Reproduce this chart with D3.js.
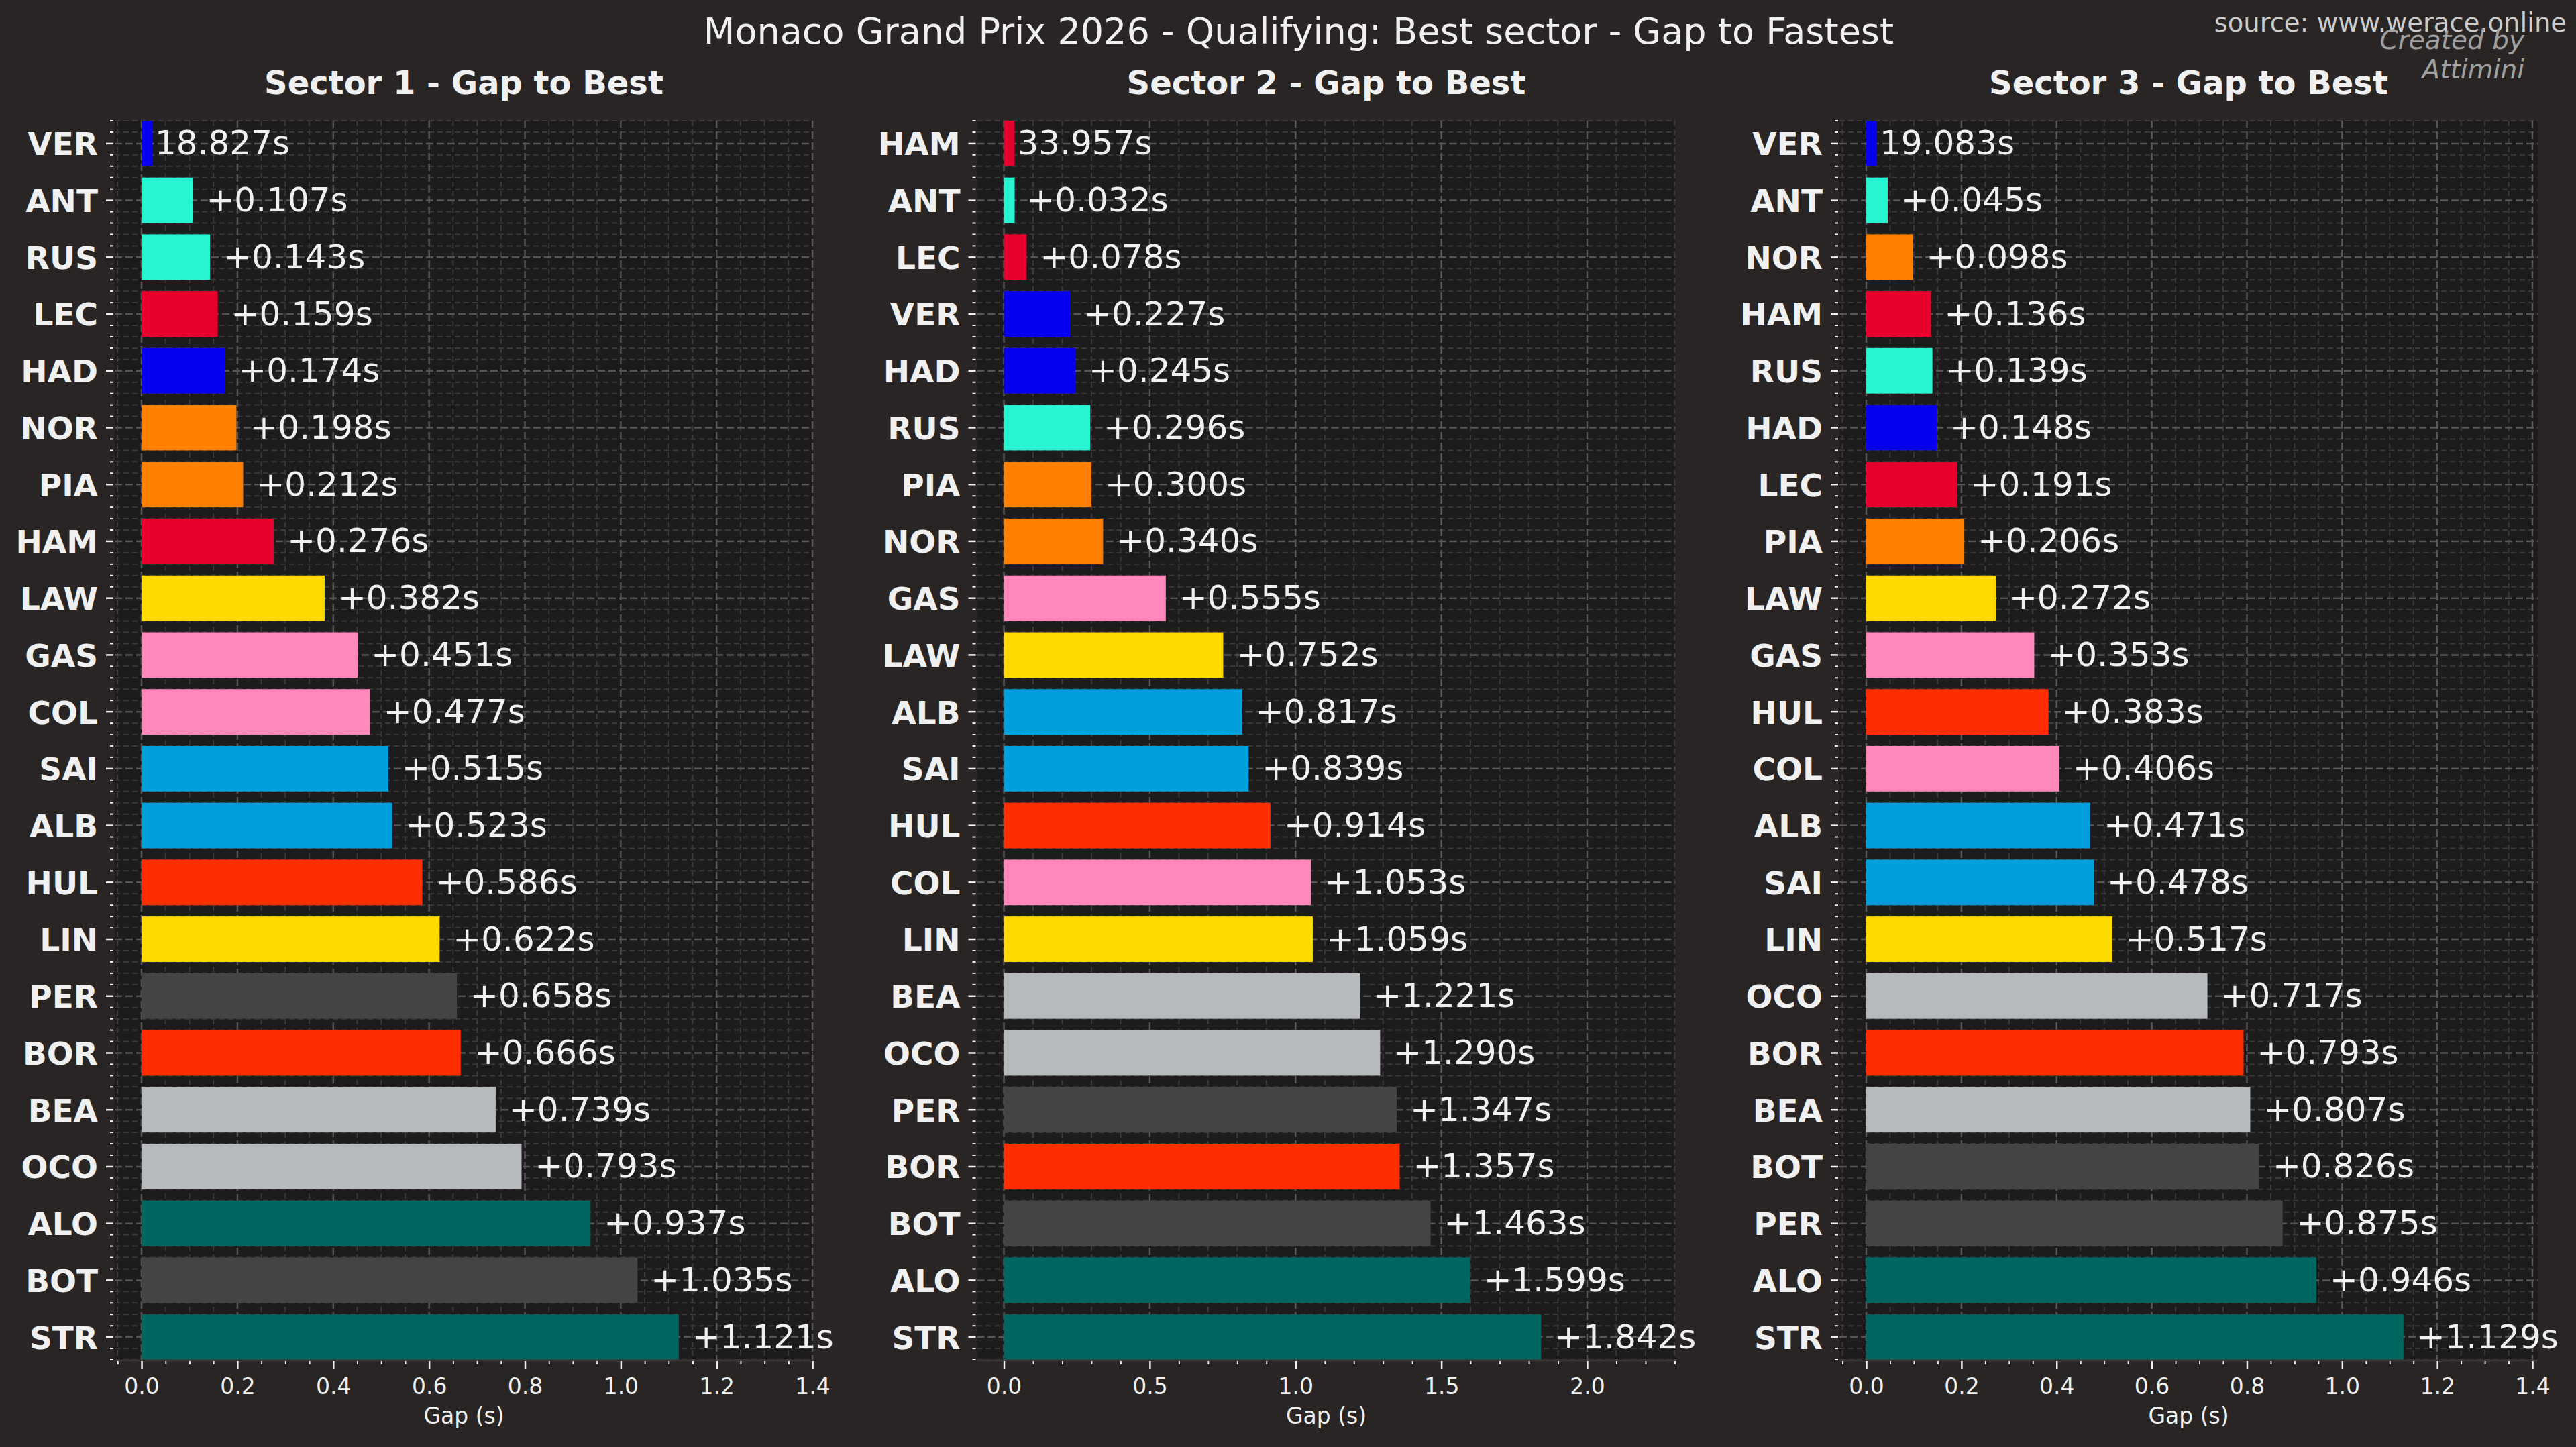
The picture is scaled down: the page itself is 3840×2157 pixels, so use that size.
<!DOCTYPE html>
<html>
<head>
<meta charset="utf-8">
<script src="https://cdn.jsdelivr.net/npm/d3@7"></script>
<style>
html, body { margin: 0; padding: 0; background: #282524; }
svg { display: block; }
text { font-family: "DejaVu Sans", sans-serif; }
</style>
</head>
<body>
<svg id="chart"></svg>
<script>
var width = 3840, height = 2157;

// data
var s1Drivers = ["VER", "ANT", "RUS", "LEC", "HAD", "NOR", "PIA", "HAM", "LAW", "GAS", "COL",
    "SAI", "ALB", "HUL", "LIN", "PER", "BOR", "BEA", "OCO", "ALO", "BOT", "STR"];
var s1Gaps = [0, 0.107, 0.143, 0.159, 0.174, 0.198, 0.212, 0.276, 0.382, 0.451, 0.477,
    0.515, 0.523, 0.586, 0.622, 0.658, 0.666, 0.739, 0.793, 0.937, 1.035, 1.121];

var s2Drivers = ["HAM", "ANT", "LEC", "VER", "HAD", "RUS", "PIA", "NOR", "GAS", "LAW", "ALB",
    "SAI", "HUL", "COL", "LIN", "BEA", "OCO", "PER", "BOR", "BOT", "ALO", "STR"];
var s2Gaps = [0, 0.032, 0.078, 0.227, 0.245, 0.296, 0.300, 0.340, 0.555, 0.752, 0.817,
    0.839, 0.914, 1.053, 1.059, 1.221, 1.290, 1.347, 1.357, 1.463, 1.599, 1.842];

var s3Drivers = ["VER", "ANT", "NOR", "HAM", "RUS", "HAD", "LEC", "PIA", "LAW", "GAS", "HUL",
    "COL", "ALB", "SAI", "LIN", "OCO", "BOR", "BEA", "BOT", "PER", "ALO", "STR"];
var s3Gaps = [0, 0.045, 0.098, 0.136, 0.139, 0.148, 0.191, 0.206, 0.272, 0.353, 0.383,
    0.406, 0.471, 0.478, 0.517, 0.717, 0.793, 0.807, 0.826, 0.875, 0.946, 1.129];

var bestTimes = [18.827, 33.957, 19.083];
var sectorTitles = ["Sector 1 - Gap to Best", "Sector 2 - Gap to Best", "Sector 3 - Gap to Best"];

var s1Ticks = [0, 0.2, 0.4, 0.6, 0.8, 1.0, 1.2, 1.4];
var s2Ticks = [0, 0.5, 1.0, 1.5, 2.0];
var s3Ticks = [0, 0.2, 0.4, 0.6, 0.8, 1.0, 1.2, 1.4];
var minorSteps = [0.05, 0.1, 0.05];

var teamColors = {
    VER: "#0600EF", HAD: "#0600EF",
    ANT: "#27F4D2", RUS: "#27F4D2",
    LEC: "#E8002D", HAM: "#E8002D",
    NOR: "#FF8000", PIA: "#FF8000",
    LAW: "#FFDA00", LIN: "#FFDA00",
    GAS: "#FF87BC", COL: "#FF87BC",
    SAI: "#00A0DE", ALB: "#00A0DE",
    HUL: "#FF2D00", BOR: "#FF2D00",
    PER: "#444444", BOT: "#444444",
    BEA: "#B6BABD", OCO: "#B6BABD",
    ALO: "#00665F", STR: "#00665F"
};

var panels = [
    { drivers: s1Drivers, gaps: s1Gaps, best: bestTimes[0], title: sectorTitles[0], ticks: s1Ticks, minor: minorSteps[0] },
    { drivers: s2Drivers, gaps: s2Gaps, best: bestTimes[1], title: sectorTitles[1], ticks: s2Ticks, minor: minorSteps[1] },
    { drivers: s3Drivers, gaps: s3Gaps, best: bestTimes[2], title: sectorTitles[2], ticks: s3Ticks, minor: minorSteps[2] }
];

// layout
var plotTop = 180, plotH = 1847, plotW = 1041;
var plotLeft0 = 171, panelStep = 1285.5;

var svg = d3.select("#chart")
    .attr("width", width)
    .attr("height", height);

svg.append("rect")
    .attr("width", width)
    .attr("height", height)
    .attr("fill", "#282524");

svg.append("text")
    .attr("x", 1936)
    .attr("y", 65)
    .attr("text-anchor", "middle")
    .attr("font-size", "54px")
    .attr("fill", "#f0f0f0")
    .text("Monaco Grand Prix 2026 - Qualifying: Best sector - Gap to Fastest");

svg.append("text")
    .attr("x", 3826)
    .attr("y", 47)
    .attr("text-anchor", "end")
    .attr("font-size", "38.5px")
    .attr("fill", "#cccccc")
    .text("source: www.werace.online");

svg.append("text")
    .attr("x", 3763)
    .attr("y", 73)
    .attr("text-anchor", "end")
    .attr("font-size", "39px")
    .attr("font-style", "italic")
    .attr("fill", "#a0a0a0")
    .text("Created by");

svg.append("text")
    .attr("x", 3763)
    .attr("y", 117)
    .attr("text-anchor", "end")
    .attr("font-size", "39px")
    .attr("font-style", "italic")
    .attr("fill", "#a0a0a0")
    .text("Attimini");

panels.forEach(function(p, pi) {
    var n = p.drivers.length;
    var maxGap = d3.max(p.gaps);

    var x = d3.scaleLinear()
        .domain([-0.05 * maxGap, 1.25 * maxGap])
        .range([0, plotW]);

    var y = d3.scaleBand()
        .domain(p.drivers)
        .range([0, plotH])
        .paddingInner(0.2)
        .paddingOuter(0);

    // index scale for the minor y grid
    var yIdx = d3.scaleLinear()
        .domain([-0.4, n - 0.6])
        .range([0, plotH]);

    var g = svg.append("g")
        .attr("transform", "translate(" + (plotLeft0 + pi * panelStep) + "," + plotTop + ")");

    g.append("rect")
        .attr("width", plotW)
        .attr("height", plotH)
        .attr("fill", "#1d1b1b");

    // grid
    var xd = x.domain();
    var xMinor = d3.range(Math.ceil(xd[0] / p.minor - 1e-9), Math.floor(xd[1] / p.minor + 1e-9) + 1)
        .map(function(k) { return k * p.minor; })
        .filter(function(v) {
            return !p.ticks.some(function(t) { return Math.abs(t - v) < 1e-9; });
        });
    var yMinor = d3.range(-2, (n - 1) * 5 + 3)
        .filter(function(k) { return k % 5 !== 0; })
        .map(function(k) { return k / 5; });

    g.selectAll(".xminor")
        .data(xMinor)
        .enter()
        .append("line")
        .attr("x1", function(d) { return x(d); })
        .attr("x2", function(d) { return x(d); })
        .attr("y1", 0)
        .attr("y2", plotH)
        .attr("stroke", "#3a3838")
        .attr("stroke-width", 2)
        .attr("stroke-dasharray", "8,5");

    g.selectAll(".yminor")
        .data(yMinor)
        .enter()
        .append("line")
        .attr("x1", 0)
        .attr("x2", plotW)
        .attr("y1", function(d) { return yIdx(d); })
        .attr("y2", function(d) { return yIdx(d); })
        .attr("stroke", "#3a3838")
        .attr("stroke-width", 2)
        .attr("stroke-dasharray", "8,5");

    g.selectAll(".xmajor")
        .data(p.ticks)
        .enter()
        .append("line")
        .attr("x1", function(d) { return x(d); })
        .attr("x2", function(d) { return x(d); })
        .attr("y1", 0)
        .attr("y2", plotH)
        .attr("stroke", "#575555")
        .attr("stroke-width", 2.5)
        .attr("stroke-dasharray", "11,5");

    g.selectAll(".ymajor")
        .data(p.drivers)
        .enter()
        .append("line")
        .attr("x1", 0)
        .attr("x2", plotW)
        .attr("y1", function(d) { return y(d) + y.bandwidth() / 2; })
        .attr("y2", function(d) { return y(d) + y.bandwidth() / 2; })
        .attr("stroke", "#575555")
        .attr("stroke-width", 2.5)
        .attr("stroke-dasharray", "11,5");

    // bars
    g.selectAll(".bar")
        .data(p.drivers)
        .enter()
        .append("rect")
        .attr("x", x(0))
        .attr("y", function(d) { return y(d); })
        .attr("height", y.bandwidth())
        .attr("width", function(d, i) {
            return x(Math.max(p.gaps[i], maxGap * 0.02)) - x(0);
        })
        .attr("fill", function(d) { return teamColors[d]; });

    // value labels
    g.selectAll(".val")
        .data(p.drivers)
        .enter()
        .append("text")
        .attr("x", function(d, i) { return x(p.gaps[i]) + 20; })
        .attr("y", function(d) { return y(d) + y.bandwidth() / 2; })
        .attr("dy", "0.33em")
        .attr("font-size", "50px")
        .attr("fill", "#f0f0f0")
        .text(function(d, i) {
            return i === 0 ? p.best.toFixed(3) + "s" : "+" + p.gaps[i].toFixed(3) + "s";
        });

    // bottom spine
    g.append("line")
        .attr("x1", 0)
        .attr("x2", plotW)
        .attr("y1", plotH + 1)
        .attr("y2", plotH + 1)
        .attr("stroke", "#363434")
        .attr("stroke-width", 3);

    // x axis
    var xAxis = g.append("g")
        .attr("transform", "translate(0," + (plotH + 2) + ")")
        .call(d3.axisBottom(x).tickValues(p.ticks).tickSize(11).tickFormat(d3.format(".1f")));
    xAxis.select(".domain").remove();
    xAxis.selectAll("line").attr("stroke", "#f0f0f0").attr("stroke-width", 2.5);
    xAxis.selectAll("text")
        .attr("y", 49)
        .attr("dy", null)
        .attr("fill", "#f0f0f0")
        .attr("font-size", "33px")
        .attr("font-family", "DejaVu Sans");

    var xAxisMinor = g.append("g")
        .attr("transform", "translate(0," + (plotH + 2) + ")")
        .call(d3.axisBottom(x).tickValues(xMinor).tickSize(5).tickFormat(""));
    xAxisMinor.select(".domain").remove();
    xAxisMinor.selectAll("line").attr("stroke", "#f0f0f0").attr("stroke-width", 2);

    g.append("text")
        .attr("x", plotW / 2)
        .attr("y", 1942)
        .attr("text-anchor", "middle")
        .attr("font-size", "33px")
        .attr("fill", "#f0f0f0")
        .text("Gap (s)");

    // y axis
    var yAxis = g.append("g")
        .attr("transform", "translate(-2,0)")
        .call(d3.axisLeft(y).tickSize(11));
    yAxis.select(".domain").remove();
    yAxis.selectAll("line").attr("stroke", "#f0f0f0").attr("stroke-width", 2.5);
    yAxis.selectAll("text")
        .attr("x", -23)
        .attr("dy", "0.37em")
        .attr("fill", "#f0f0f0")
        .attr("font-size", "47px")
        .attr("font-weight", "bold")
        .attr("font-family", "DejaVu Sans");

    g.selectAll(".yminortick")
        .data(yMinor)
        .enter()
        .append("line")
        .attr("x1", -2)
        .attr("x2", -7)
        .attr("y1", function(d) { return yIdx(d); })
        .attr("y2", function(d) { return yIdx(d); })
        .attr("stroke", "#f0f0f0")
        .attr("stroke-width", 2);

    // subplot title
    g.append("text")
        .attr("x", plotW / 2)
        .attr("y", 140 - plotTop)
        .attr("text-anchor", "middle")
        .attr("font-size", "48px")
        .attr("font-weight", "bold")
        .attr("fill", "#f0f0f0")
        .text(p.title);
});
</script>
</body>
</html>
